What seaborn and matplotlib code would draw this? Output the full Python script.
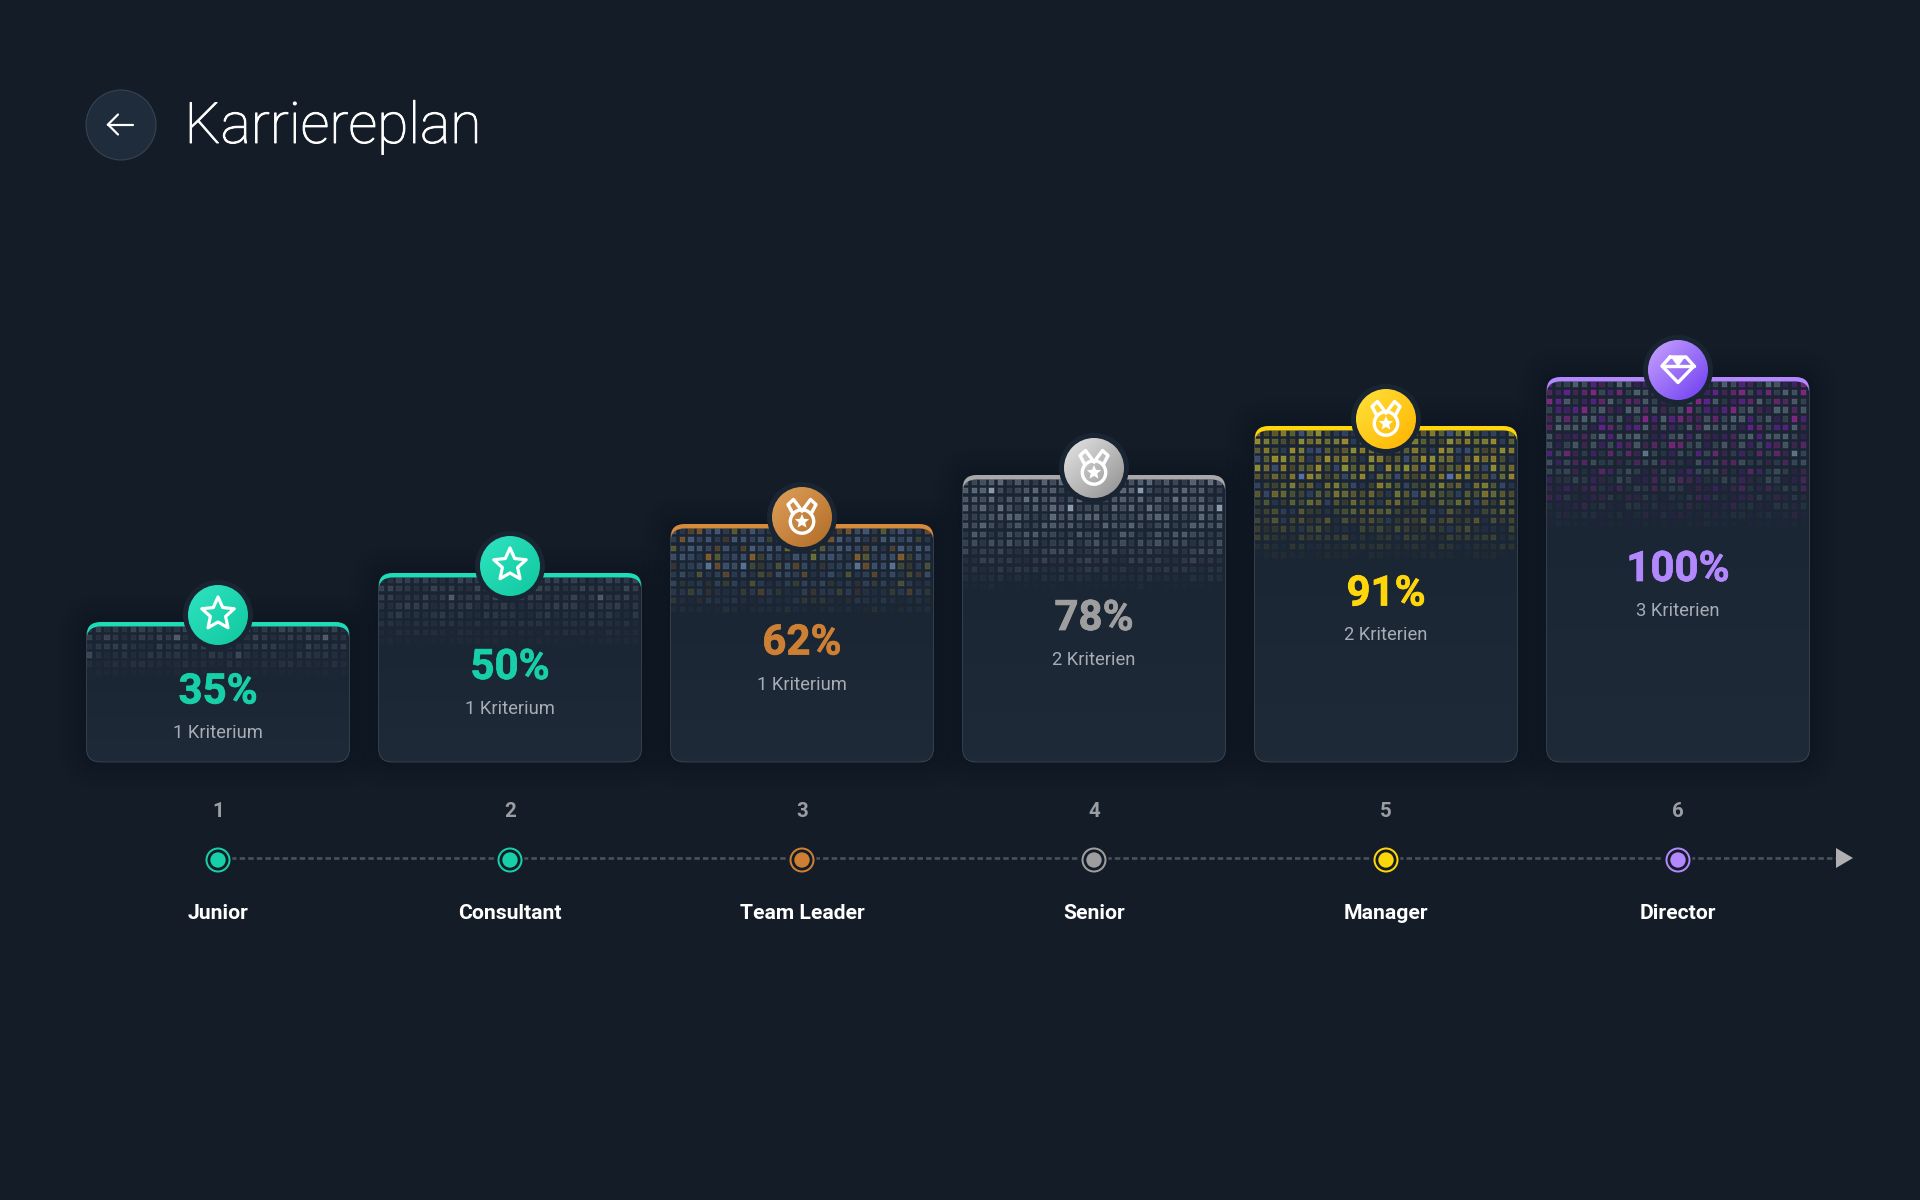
import matplotlib
matplotlib.use('Agg')
import matplotlib.pyplot as plt
import matplotlib.patheffects as pe
import numpy as np
import pandas as pd
import seaborn as sns
from matplotlib.collections import PolyCollection
from matplotlib.colors import LinearSegmentedColormap
from matplotlib.patches import Circle, FancyBboxPatch, Polygon, Rectangle
from matplotlib.transforms import Affine2D

# chart values
levels = [1, 2, 3, 4, 5, 6]
names = ['Junior', 'Consultant', 'Team Leader', 'Senior', 'Manager', 'Director']
percents = [35, 50, 62, 78, 91, 100]
criteria = ['1 Kriterium', '1 Kriterium', '1 Kriterium', '2 Kriterien', '2 Kriterien', '3 Kriterien']
bar_heights = [140, 189, 238, 287, 336, 385]

# styling per level
accent = ['#17cfa8', '#17cfa8', '#cd8034', '#9e9e9e', '#ffd60a', '#b388ff']
top_colors = ['#1fdcb8', '#1fdcb8', '#d58a3c', '#a8a8a8', '#ffd60a', '#b388ff']
badge_from = ['#2fe3c0', '#2fe3c0', '#e0a058', '#e6e6e6', '#ffe23a', '#c9a4ff']
badge_to = ['#10c8a0', '#10c8a0', '#b06c28', '#8f8f8f', '#ffb300', '#6d3df0']
icons = ['star', 'star', 'medal', 'medal', 'medal', 'diamond']
cell_base = ['#5a6674', '#5a6674', '#5f7a9c', '#8592a0', '#4a5f8c', '#6f808e']
cell_accents = [['#5a6674'], ['#5a6674'], ['#c8842e', '#9a9a3c'], ['#8592a0'],
                ['#c9ad2c', '#a8a838'], ['#8a22c0', '#b02aa8']]
accent_share = [0, 0, 3, 0, 8, 5]
cell_strength = [0.72, 0.72, 0.95, 1.0, 1.2, 1.0]
page_bg = '#141c28'

# hand typed tile for the pixel mosaic
mosaic = [
    '38152974603817256',
    '71940263859124073',
    '25687310946578231',
    '94036128757302964',
    '60273895412846109',
    '18594760328159347',
    '53720416987026581',
    '87361059242693710',
    '02948673155387426',
    '46815207396740852',
    '79302584610235968',
]

sns.set_theme(style='dark')
plt.rcParams['font.family'] = ['Roboto', 'DejaVu Sans']

fig = plt.figure(figsize=(19.2, 12), dpi=100, facecolor=page_bg)
ax = fig.add_axes([0, 0, 1, 1])
ax.set_facecolor(page_bg)

df = pd.DataFrame({'level': levels, 'height': bar_heights, 'name': names})
sns.barplot(data=df, x='level', y='height', hue='name', palette=top_colors, native_scale=True,
            dodge=False, width=263 / 292, legend=False, linewidth=0, saturation=1, ax=ax, zorder=3)

# inner timeline dots
sns.scatterplot(data=df.assign(line=-98.0), x='level', y='line', hue='name', palette=accent, s=122,
                linewidth=0, legend=False, ax=ax, zorder=9)

ax.set_xlim(1 - 218 / 292, 1 + (1920 - 218) / 292)
ax.set_ylim(-438, 762)
ax.axis('off')

# pixel coordinates, origin top left, for everything that decorates the bars
px = Affine2D().scale(1, -1).translate(0, 1200)


def pt(v):
    return v * 0.72


def rounded(x0, y0, w, h, r=14, **kw):
    return FancyBboxPatch((x0, y0), w, h, boxstyle=f'round,pad=0,rounding_size={r}',
                          transform=px, **kw)


def star_points(cx, cy, r_out, r_in):
    a = np.deg2rad(np.arange(10) * 36 - 90)
    r = np.where(np.arange(10) % 2 == 0, r_out, r_in)
    return np.column_stack([cx + r * np.cos(a), cy + r * np.sin(a)])


def stroke(xs, ys, lw=3.4, z=8):
    ax.plot(xs, ys, color='white', lw=pt(lw), transform=px, zorder=z,
            solid_capstyle='round', solid_joinstyle='round')


def draw_icon(kind, cx, cy):
    if kind == 'star':
        ax.add_patch(Polygon(star_points(cx, cy - 1, 17, 8), closed=True, fill=False, edgecolor='white',
                             lw=pt(3.2), joinstyle='round', transform=px, zorder=8))
    elif kind == 'medal':
        for s in (-1, 1):
            stroke([cx + s * 9, cx + s * 14, cx + s * 8.5, cx],
                   [cy - 3, cy - 12.5, cy - 17.5, cy - 6])
        ax.add_patch(Circle((cx, cy + 4.5), 11.7, fill=True, facecolor='none', edgecolor='white',
                            lw=pt(3.4), transform=px, zorder=8))
        ax.add_patch(Polygon(star_points(cx, cy + 4.5, 7.5, 3.4), closed=True, facecolor='white',
                             edgecolor='none', transform=px, zorder=8))
    else:
        xs = np.array([-8, 8, 16, 0, -16, -8])
        ys = np.array([-13, -13, -4, 12.5, -4, -13])
        stroke(cx + xs, cy + ys)
        stroke([cx - 16, cx + 16], [cy - 4, cy - 4])
        ax.add_patch(Polygon([(cx - 6.5, cy - 13), (cx + 6.5, cy - 13), (cx, cy - 4)], closed=True,
                             facecolor='white', edgecolor='white', lw=pt(1), transform=px, zorder=8))


for i, bar in enumerate(ax.patches):
    # geometry comes from the bars seaborn drew
    (x0, yb), (x1, yt) = ax.transData.transform([(bar.get_x(), 0),
                                                 (bar.get_x() + bar.get_width(), bar.get_height())])
    top, bottom = 1200 - yt, 1200 - yb
    w, h = x1 - x0, bottom - top
    cx = (x0 + x1) / 2
    cy = top - 7

    # soft dark shadow
    for grow in (28, 22, 16, 11, 6, 3):
        ax.add_patch(rounded(x0 - grow, top - grow, w + 2 * grow, h + 2 * grow, r=14 + grow,
                             facecolor='#0a0f18', edgecolor='none', alpha=0.065, zorder=1))

    outer = rounded(x0, top, w, h)
    bar.set_clip_path(outer)

    # card body over the accent bar leaves the top border
    body = rounded(x0, top + 4.5, w, h - 4.5, facecolor='none', edgecolor='none', zorder=4)
    ax.add_patch(body)
    shade = LinearSegmentedColormap.from_list('card', ['#1a2432', '#1e2a38'])
    im = ax.imshow(np.linspace(0, 1, 64).reshape(-1, 1), cmap=shade, aspect='auto', origin='upper',
                   extent=(x0, x1, bottom, top), transform=px, zorder=4)
    im.set_clip_path(body)

    # pixel mosaic fading out downwards
    step = 8.72
    size = 5.4
    zone = 0.40 * h
    verts, cols, edges = [], [], []
    base = np.array(matplotlib.colors.to_rgb(cell_base[i]))
    for r in range(int(zone / step) + 1):
        ry = top + 7 + r * step
        fade = min(1.0, 1.5 * (1 - (ry - top) / zone))
        if fade <= 0:
            continue
        for c in range(30):
            rx = x0 + 3 + c * 8.75
            d = int(mosaic[(r + i * 3) % 11][(c + i * 5) % 17])
            e = int(mosaic[(r + i + 6) % 11][(c * 2 + i + 9) % 17])
            if e < accent_share[i]:
                rgb = matplotlib.colors.to_rgb(cell_accents[i][d % len(cell_accents[i])])
            else:
                rgb = base
            alpha = min(1, (0.2 + 0.05 * d) * fade * cell_strength[i])
            if d == 9 and e == 9:
                rgb = np.minimum(np.array(rgb) * 1.25, 1)
                alpha = min(1, alpha * 1.25)
            verts.append([(rx - size / 2, ry - size / 2), (rx + size / 2, ry - size / 2),
                          (rx + size / 2, ry + size / 2), (rx - size / 2, ry + size / 2)])
            cols.append((*rgb, alpha))
            edges.append((*rgb, alpha * 0.3))
    # faint edge keeps the cells soft like the source
    cells = PolyCollection(verts, facecolors=cols, edgecolors=edges, linewidths=pt(1.6),
                           transform=px, zorder=5)
    ax.add_collection(cells, autolim=False)
    cells.set_clip_path(body)

    # thin outline on sides and bottom
    edge = rounded(x0, top, w, h, facecolor='none', edgecolor='#333e4b', lw=pt(1.0), zorder=6)
    ax.add_patch(edge)
    edge.set_clip_path(Rectangle((x0 - 3, top + 10), w + 6, h, transform=px))

    # badge
    ax.add_patch(Circle((cx, cy), 35, facecolor='#1a2533', edgecolor='none', transform=px, zorder=7))
    disc = Circle((cx, cy), 30, facecolor='none', edgecolor='none', transform=px, zorder=7)
    ax.add_patch(disc)
    gx, gy = np.meshgrid(np.linspace(0, 1, 64), np.linspace(0, 1, 64))
    cmap = LinearSegmentedColormap.from_list('b', [badge_from[i], badge_to[i]])
    badge = ax.imshow((gx + gy) / 2, cmap=cmap, aspect='auto', origin='upper',
                      extent=(cx - 30, cx + 30, cy + 30, cy - 30), transform=px, zorder=7)
    badge.set_clip_path(disc)
    draw_icon(icons[i], cx, cy)

    # texts
    base_y = top + 0.5 * h + 11.5
    ax.text(cx, base_y, f'{percents[i]}%', color=accent[i], fontsize=pt(42), fontweight='bold',
            ha='center', va='baseline', transform=px, zorder=8,
            path_effects=[pe.withStroke(linewidth=pt(0.7), foreground=accent[i])])
    ax.text(cx, base_y + 35, criteria[i], color='#a6adb5', fontsize=pt(18.4),
            ha='center', va='baseline', transform=px, zorder=8)
    ax.text(cx, 817, str(levels[i]), color='#9a9ea3', fontsize=pt(20.5), fontweight='bold',
            ha='center', va='baseline', transform=px, zorder=8)
    ax.text(cx, 919, names[i], color='white', fontsize=pt(21.2), fontweight='bold',
            ha='center', va='baseline', transform=px, zorder=8)

    # timeline ring
    ax.add_patch(Circle((cx, 860), 14.5, facecolor=page_bg, edgecolor='none', transform=px, zorder=7))
    ax.add_patch(Circle((cx, 860), 11.5, facecolor='none', edgecolor=accent[i], lw=pt(2),
                        transform=px, zorder=8))

# timeline
ax.plot([222, 1838], [858, 858], color='#4a525c', lw=pt(2.6), linestyle=(0, (2.1, 1.2)),
        transform=px, zorder=2)
ax.add_patch(Polygon([(1836, 848), (1853, 858), (1836, 868)], closed=True, facecolor='#b0b0b0',
                     edgecolor='none', transform=px, zorder=3))

# header
ax.add_patch(Circle((121, 125), 35, facecolor='#1e2c3c', edgecolor='#3a4654', lw=pt(1.0),
                    transform=px, zorder=3))
ax.plot([108, 133], [124.5, 124.5], color='white', lw=pt(2.2), transform=px, zorder=4)
ax.plot([118, 108, 118], [114.5, 124.5, 134.5], color='white', lw=pt(2.2), transform=px, zorder=4,
        solid_joinstyle='miter')
ax.text(184.5, 143, 'Karriereplan', color='white', fontsize=pt(57), fontweight='light',
        ha='left', va='baseline', transform=px, zorder=4,
        path_effects=[pe.withStroke(linewidth=pt(0.9), foreground='white')])

fig.savefig('out.png', dpi=100, facecolor=page_bg)
